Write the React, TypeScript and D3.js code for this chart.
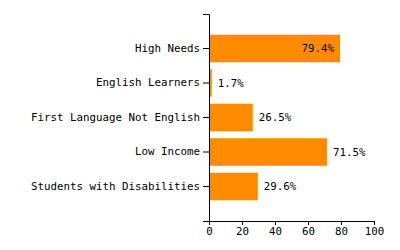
import React, { useEffect, useRef } from "react";
import * as d3 from "d3";

const categories = [
  "High Needs",
  "English Learners",
  "First Language Not English",
  "Low Income",
  "Students with Disabilities",
];
const values = [79.4, 1.7, 26.5, 71.5, 29.6];
const xTicks = [0, 20, 40, 60, 80, 100];

export default function App() {
  const ref = useRef<SVGSVGElement>(null);

  useEffect(() => {
    const svg = d3.select(ref.current);
    svg.selectAll("*").remove();
    const W = 400, H = 250;
    const m = { top: 14, right: 26, bottom: 29, left: 209 };
    const iw = W - m.left - m.right;
    const ih = H - m.top - m.bottom;
    const font = "'DejaVu Sans Mono', monospace";
    const fs = 10.8;

    const g = svg.append("g").attr("transform", `translate(${m.left},${m.top})`);
    const x = d3.scaleLinear().domain([0, 100]).range([0, iw]);
    const y = d3
      .scaleBand<string>()
      .domain(categories)
      .range([0, ih])
      .paddingInner(0.2)
      .paddingOuter(0.6);

    const data = categories.map((c, i) => ({ c, v: values[i] }));

    g.selectAll("rect.bar")
      .data(data)
      .join("rect")
      .attr("class", "bar")
      .attr("x", 0)
      .attr("y", (d) => y(d.c)!)
      .attr("width", (d) => x(d.v))
      .attr("height", y.bandwidth())
      .attr("fill", "#FF8C00");

    const charW = fs * 0.602;
    g.selectAll("text.val")
      .data(data)
      .join("text")
      .attr("class", "val")
      .each(function (d) {
        const label = d.v.toFixed(1) + "%";
        const w = label.length * charW;
        const inside = x(d.v) + 6 + w > iw;
        d3.select(this)
          .text(label)
          .attr("x", inside ? x(d.v) - 6 : x(d.v) + 6)
          .attr("text-anchor", inside ? "end" : "start");
      })
      .attr("y", (d) => y(d.c)! + y.bandwidth() / 2)
      .attr("dy", "0.35em")
      .attr("font-family", font)
      .attr("font-size", fs)
      .attr("fill", "#000");

    const ya = g.append("g").call(d3.axisLeft(y).tickSizeOuter(6));
    ya.selectAll("text").attr("font-family", font).attr("font-size", fs).attr("fill", "#000");

    const xa = g
      .append("g")
      .attr("transform", `translate(0,${ih})`)
      .call(d3.axisBottom(x).tickValues(xTicks).tickSize(4).tickPadding(2));
    xa.selectAll("text").attr("font-family", font).attr("font-size", fs).attr("fill", "#000");
    svg.selectAll(".domain, .tick line").attr("stroke", "#000");
  }, []);

  return (
    <svg
      ref={ref}
      width={400}
      height={250}
      style={{ position: "absolute", left: 0, top: 0, background: "#fff" }}
    />
  );
}
